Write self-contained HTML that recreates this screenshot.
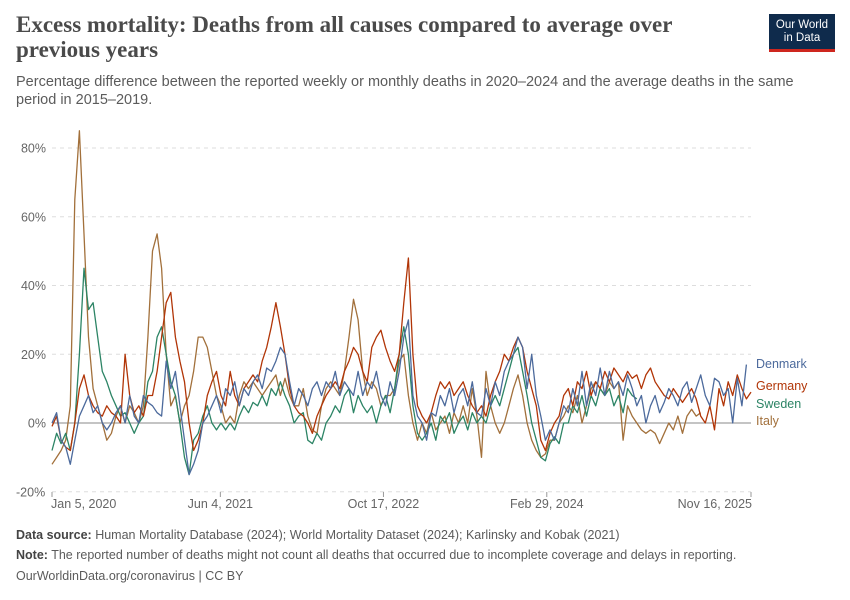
<!DOCTYPE html>
<html><head><meta charset="utf-8">
<style>
body{margin:0;background:#fff;width:850px;height:600px;overflow:hidden;font-family:"Liberation Sans",sans-serif;}
.t{position:absolute;left:16px;top:12px;width:700px;font-family:"Liberation Serif",serif;font-weight:bold;font-size:23px;line-height:25px;color:#4a4a4a;margin:0}
.s{position:absolute;left:16px;top:73px;width:810px;font-size:14.5px;line-height:18px;color:#5b5b5b}
.logo{position:absolute;left:769px;top:14px;width:66px;height:38px;background:#0f2b4c;color:#fff;font-size:11.5px;line-height:13px;text-align:center;padding-top:5px;box-sizing:border-box;border-bottom:3px solid #ce261e}
.f{position:absolute;left:16px;font-size:12.5px;color:#5b5b5b}
.f b{color:#444}
</style></head><body>
<h1 class="t">Excess mortality: Deaths from all causes compared to average over previous years</h1>
<div class="s">Percentage difference between the reported weekly or monthly deaths in 2020–2024 and the average deaths in the same period in 2015–2019.</div>
<div class="logo">Our World<br>in Data</div>
<svg id="chart" width="850" height="600" style="position:absolute;left:0;top:0"></svg>
<div class="f" style="top:528px"><b>Data source:</b> Human Mortality Database (2024); World Mortality Dataset (2024); Karlinsky and Kobak (2021)</div>
<div class="f" style="top:548px"><b>Note:</b> The reported number of deaths might not count all deaths that occurred due to incomplete coverage and delays in reporting.</div>
<div class="f" style="top:569px">OurWorldinData.org/coronavirus | CC BY</div>
<script>
const yTicks=[-20,0,20,40,60,80];
const xTickLabels=["Jan 5, 2020","Jun 4, 2021","Oct 17, 2022","Feb 29, 2024","Nov 16, 2025"];
const xTickWeeks=[0,73.7,145.1,216.6,306];
const seriesNames=["Denmark","Germany","Sweden","Italy"];
const italy=[-12,-10,-8,-5,5,65,85,55,25,10,5,0,-5,-3,2,5,0,5,3,0,5,25,50,55,45,20,5,8,0,5,8,15,25,25,22,15,8,5,0,2,0,8,12,10,12,10,8,10,12,14,8,13,8,5,5,10,2,-2,-3,5,10,12,10,8,15,25,36,30,15,8,12,10,5,8,8,10,18,20,8,0,-5,0,-3,3,-2,0,2,-3,3,0,5,0,10,2,-10,15,5,0,-3,0,5,10,14,8,0,-5,-8,-10,-9,-5,-5,0,2,5,3,8,0,5,10,12,10,8,12,10,12,-5,5,2,0,-2,-3,-2,-3,-6,-3,0,-2,2,-3,2,4,2,3];
const germany=[-1,2,-5,-7,-8,0,10,14,8,5,3,2,5,3,2,0,20,8,3,5,2,8,8,15,25,35,38,25,18,12,0,-8,-5,0,8,12,15,8,5,15,8,5,10,12,14,12,18,22,28,35,28,20,10,5,3,2,0,-3,2,5,8,10,12,10,15,18,22,20,15,12,22,25,27,22,18,15,20,35,48,20,5,2,0,3,8,12,10,12,8,10,12,8,5,3,5,2,8,12,15,20,18,22,25,22,15,10,5,-5,-8,-3,0,2,8,10,5,12,10,15,8,12,10,15,12,16,14,12,15,13,14,10,14,16,12,10,8,7,10,8,6,8,10,7,2,0,5,-2,10,5,12,8,14,10,7,9];
const denmark=[0,3,-5,-7,-12,-5,2,5,8,3,5,0,-2,0,3,5,0,8,2,0,8,6,5,3,2,18,10,15,5,-5,-15,-12,-8,0,2,5,8,3,10,8,12,5,10,8,12,14,10,16,15,18,22,20,12,5,10,8,5,10,12,8,12,10,15,8,12,10,8,15,8,12,10,15,8,5,12,8,15,25,30,8,2,0,-5,3,2,8,5,10,3,8,10,5,12,3,2,10,5,12,8,15,18,20,25,22,10,20,8,2,-5,-2,-5,0,5,3,10,5,15,5,12,8,16,8,15,10,12,8,14,10,5,8,0,5,8,3,6,10,8,5,10,12,6,10,14,8,5,13,12,8,10,0,13,5,17];
const sweden=[-8,-3,-6,-3,-8,0,20,45,33,35,25,15,12,8,5,2,3,0,-3,0,2,12,15,25,28,20,12,8,0,-10,-15,-5,-3,2,5,0,-2,0,-2,0,-2,2,5,3,6,5,8,5,10,8,12,8,5,0,2,3,-5,-6,-3,-5,0,2,5,3,8,10,3,8,5,3,5,0,5,8,3,10,20,28,20,5,-3,-5,-3,0,-5,2,0,3,-3,0,2,-2,3,0,2,0,5,8,5,10,15,20,22,15,8,0,-5,-10,-11,-6,-4,-6,0,0,5,3,8,2,8,5,10,8,10,5,8,3,10,8,7];
const colors={Denmark:"#4c6a9c",Germany:"#b13507",Sweden:"#2c8465",Italy:"#a2703b"};
const svg=document.getElementById('chart');
const NS="http://www.w3.org/2000/svg";
const X0=52,X1=751,Y0=423,PX=3.4375;
function xScale(w){return X0+(X1-X0)*w/306;}
function yScale(v){return Y0-v*PX;}
function mk(tag,attrs){const e=document.createElementNS(NS,tag);for(const k in attrs)e.setAttribute(k,attrs[k]);svg.appendChild(e);return e;}
yTicks.forEach(v=>{
  const g=mk('line',{x1:X0,x2:X1,y1:yScale(v),y2:yScale(v),stroke:v===0?'#8a8a8a':'#dddddd','stroke-dasharray':v===0?'':'4,4','stroke-width':1});
  
  
  const t=mk('text',{x:v===-20?16:46,y:yScale(v)+4.5,'text-anchor':v===-20?'start':'end','font-size':12.5,fill:'#666','font-family':'Liberation Sans, sans-serif'});
  t.textContent=v+'%';
  
  
});
xTickLabels.forEach((lab,i)=>{
  const x=xScale(xTickWeeks[i]);
  const tk=mk('line',{x1:x,x2:x,y1:492,y2:497,stroke:'#999'});
  
  
  const anchor=i===0?'start':(i===xTickLabels.length-1?'end':'middle');
  const t=mk('text',{x:i===0?X0-1:(i===xTickLabels.length-1?X1+1:x),y:508,'text-anchor':anchor,'font-size':12.5,fill:'#666','font-family':'Liberation Sans, sans-serif'});
  t.textContent=lab;
  
  
});
const data={Italy:italy,Sweden:sweden,Germany:germany,Denmark:denmark};
["Italy","Sweden","Germany","Denmark"].forEach(n=>{
  const d=data[n].map((v,i)=>(i?'L':'M')+xScale(i*2).toFixed(1)+','+yScale(v).toFixed(1)).join('');
  const p=mk('path',{d:d,fill:'none',stroke:colors[n],'stroke-width':1.3,'stroke-linejoin':'round'});
  
  
});
const labY={Denmark:368,Germany:390,Sweden:408,Italy:425};
seriesNames.forEach(n=>{
  const t=mk('text',{x:756,y:labY[n],'font-size':12.5,fill:colors[n],'font-family':'Liberation Sans, sans-serif'});
  t.textContent=n;
  
  
});
</script>
</body></html>
